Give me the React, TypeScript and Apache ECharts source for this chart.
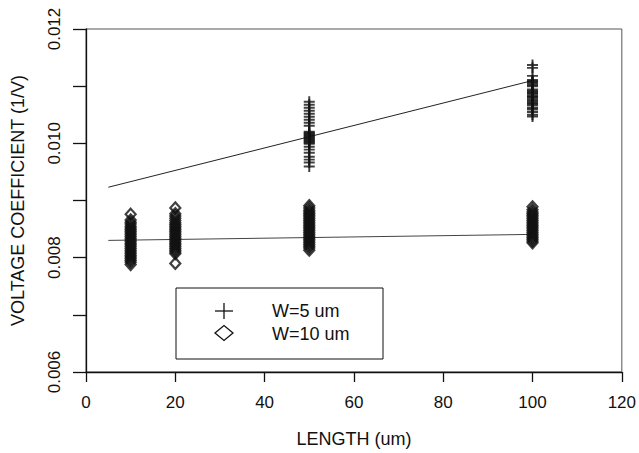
import React, { useEffect, useRef } from "react";
import * as echarts from "echarts";

// ---- data ----
const xTickLabels = ["0", "20", "40", "60", "80", "100", "120"];
const yTickLabels = ["0.006", "0.008", "0.010", "0.012"];

// W=5 um (crosses)
const w5Len50 = [
  0.010727, 0.010674, 0.010622, 0.01057, 0.010517, 0.010465, 0.010413, 0.01036,
  0.010308, 0.010203, 0.010186, 0.010169, 0.010151, 0.010134, 0.010116, 0.010099,
  0.010081, 0.010064, 0.010046, 0.010029, 0.010011, 0.009994, 0.009942, 0.00989,
  0.009837, 0.009767, 0.009715, 0.009663, 0.009593,
];
const w5Len100 = [
  0.011372, 0.01132, 0.01118, 0.01111, 0.01109, 0.01107, 0.01105, 0.01102,
  0.011, 0.01094, 0.01092, 0.0109, 0.01088, 0.01086, 0.01083, 0.01081,
  0.01079, 0.01076, 0.01073, 0.01071, 0.01069, 0.01066, 0.01062, 0.01059,
  0.01055, 0.0105, 0.01047,
];

// W=10 um (diamonds)
const w10Len10 = [
  0.00876, 0.00866, 0.00862, 0.00859, 0.00855, 0.00852, 0.00849, 0.00846,
  0.00843, 0.0084, 0.00837, 0.00834, 0.00831, 0.00828, 0.00825, 0.00822,
  0.00819, 0.00816, 0.00813, 0.0081, 0.00807, 0.00804, 0.00801, 0.00798,
  0.00795, 0.00792, 0.00788,
];
const w10Len20 = [
  0.00887, 0.00877, 0.00873, 0.00869, 0.00865, 0.00861, 0.00858, 0.00855,
  0.00852, 0.00849, 0.00846, 0.00843, 0.0084, 0.00837, 0.00834, 0.00831,
  0.00828, 0.00825, 0.00822, 0.00819, 0.00816, 0.00813, 0.0081, 0.00807,
  0.0079,
];
const w10Len50 = [
  0.00891, 0.00887, 0.00883, 0.0088, 0.00877, 0.00874, 0.00871, 0.00868,
  0.00865, 0.00862, 0.00859, 0.00856, 0.00853, 0.0085, 0.00847, 0.00844,
  0.00841, 0.00838, 0.00835, 0.00832, 0.00829, 0.00826, 0.00823, 0.0082,
  0.00817, 0.00813,
];
const w10Len100 = [
  0.00889, 0.00884, 0.0088, 0.00877, 0.00874, 0.00871, 0.00868, 0.00865,
  0.00862, 0.00859, 0.00856, 0.00853, 0.0085, 0.00847, 0.00844, 0.00841,
  0.00838, 0.00835, 0.00832, 0.00829, 0.00826,
];

// linear fits (endpoints)
const fitW5 = [
  [5, 0.009232],
  [100, 0.011098],
];
const fitW10 = [
  [5, 0.008302],
  [100, 0.008407],
];

const seriesNames = ["W=5 um", "W=10 um"];

const FONT = "'Liberation Sans', Arial, Helvetica, sans-serif";
const PLUS =
  "path://M4.1,0h1.8v4.1h4.1v1.8h-4.1v4.1h-1.8v-4.1h-4.1v-1.8h4.1z";

function pts(x: number, ys: number[]) {
  return ys.map((y) => [x, y]);
}

export default function App() {
  const ref = useRef<HTMLDivElement>(null);
  useEffect(() => {
    if (!ref.current) return;
    const chart = echarts.init(ref.current, null, { renderer: "svg" });
    const w5Data = [...pts(50, w5Len50), ...pts(100, w5Len100)];
    const w10Data = [
      ...pts(10, w10Len10),
      ...pts(20, w10Len20),
      ...pts(50, w10Len50),
      ...pts(100, w10Len100),
    ];
    chart.setOption({
      animation: false,
      backgroundColor: "#ffffff",
      textStyle: { fontFamily: FONT, color: "#111" },
      grid: {
        left: 86,
        top: 29,
        right: 17,
        bottom: 80,
        show: true,
        borderColor: "#555",
        borderWidth: 1,
      },
      xAxis: {
        type: "value",
        min: 0,
        max: 120,
        interval: 20,
        name: "LENGTH (um)",
        nameLocation: "middle",
        nameGap: 58,
        nameTextStyle: { fontSize: 18, color: "#111", fontFamily: FONT },
        axisLine: { show: true, onZero: false, lineStyle: { color: "#111", width: 1.3 } },
        axisTick: { show: true, length: 10, lineStyle: { color: "#111", width: 1.3 } },
        axisLabel: {
          fontSize: 17,
          color: "#111",
          margin: 22,
          fontFamily: FONT,
          formatter: (v: number) => {
            const s = String(Math.round(v));
            return xTickLabels.includes(s) ? s : "";
          },
        },
        splitLine: { show: false },
      },
      yAxis: {
        type: "value",
        min: 0.006,
        max: 0.012,
        interval: 0.001,
        name: "VOLTAGE COEFFICIENT (1/V)",
        nameLocation: "middle",
        nameGap: 59,
        nameTextStyle: { fontSize: 18, color: "#111", fontFamily: FONT },
        axisLine: { show: true, onZero: false, lineStyle: { color: "#111", width: 1.3 } },
        axisTick: { show: true, length: 13, lineStyle: { color: "#111", width: 1.3 } },
        axisLabel: {
          fontSize: 17,
          color: "#111",
          rotate: 90,
          margin: 23,
          fontFamily: FONT,
          formatter: (v: number) => {
            const s = v.toFixed(3);
            return yTickLabels.includes(s) ? s : "";
          },
        },
        splitLine: { show: false },
      },
      series: [
        {
          name: seriesNames[0],
          type: "scatter",
          data: w5Data,
          symbol: PLUS,
          symbolSize: 11,
          itemStyle: { color: "#111" },
          z: 3,
        },
        {
          name: seriesNames[1],
          type: "scatter",
          data: w10Data,
          symbol: "diamond",
          symbolSize: [10, 11],
          itemStyle: { color: "none", borderColor: "#111", borderWidth: 2.2 },
          z: 3,
        },
        {
          name: "fit5",
          type: "line",
          data: fitW5,
          symbol: "none",
          lineStyle: { color: "#222", width: 1 },
          z: 2,
        },
        {
          name: "fit10",
          type: "line",
          data: fitW10,
          symbol: "none",
          lineStyle: { color: "#444", width: 1 },
          z: 2,
        },
      ],
      graphic: [
        {
          type: "rect",
          shape: { x: 176, y: 288, width: 207, height: 71 },
          style: { fill: "none", stroke: "#111", lineWidth: 1 },
        },
        {
          type: "line",
          shape: { x1: 215, y1: 311, x2: 233, y2: 311 },
          style: { stroke: "#111", lineWidth: 1.3 },
        },
        {
          type: "line",
          shape: { x1: 224, y1: 303, x2: 224, y2: 319 },
          style: { stroke: "#111", lineWidth: 1.3 },
        },
        {
          type: "polygon",
          shape: {
            points: [
              [215, 333],
              [224, 325.5],
              [233, 333],
              [224, 340.5],
            ],
          },
          style: { fill: "none", stroke: "#111", lineWidth: 1.3 },
        },
        {
          type: "text",
          x: 272,
          y: 311,
          style: {
            text: seriesNames[0],
            fontSize: 18,
            fontFamily: FONT,
            fill: "#111",
            verticalAlign: "middle",
          },
        },
        {
          type: "text",
          x: 272,
          y: 334,
          style: {
            text: seriesNames[1],
            fontSize: 18,
            fontFamily: FONT,
            fill: "#111",
            verticalAlign: "middle",
          },
        },
      ],
    });
    return () => chart.dispose();
  }, []);
  return (
    <div
      ref={ref}
      style={{ position: "fixed", left: 0, top: 0, width: 639, height: 453 }}
    />
  );
}
